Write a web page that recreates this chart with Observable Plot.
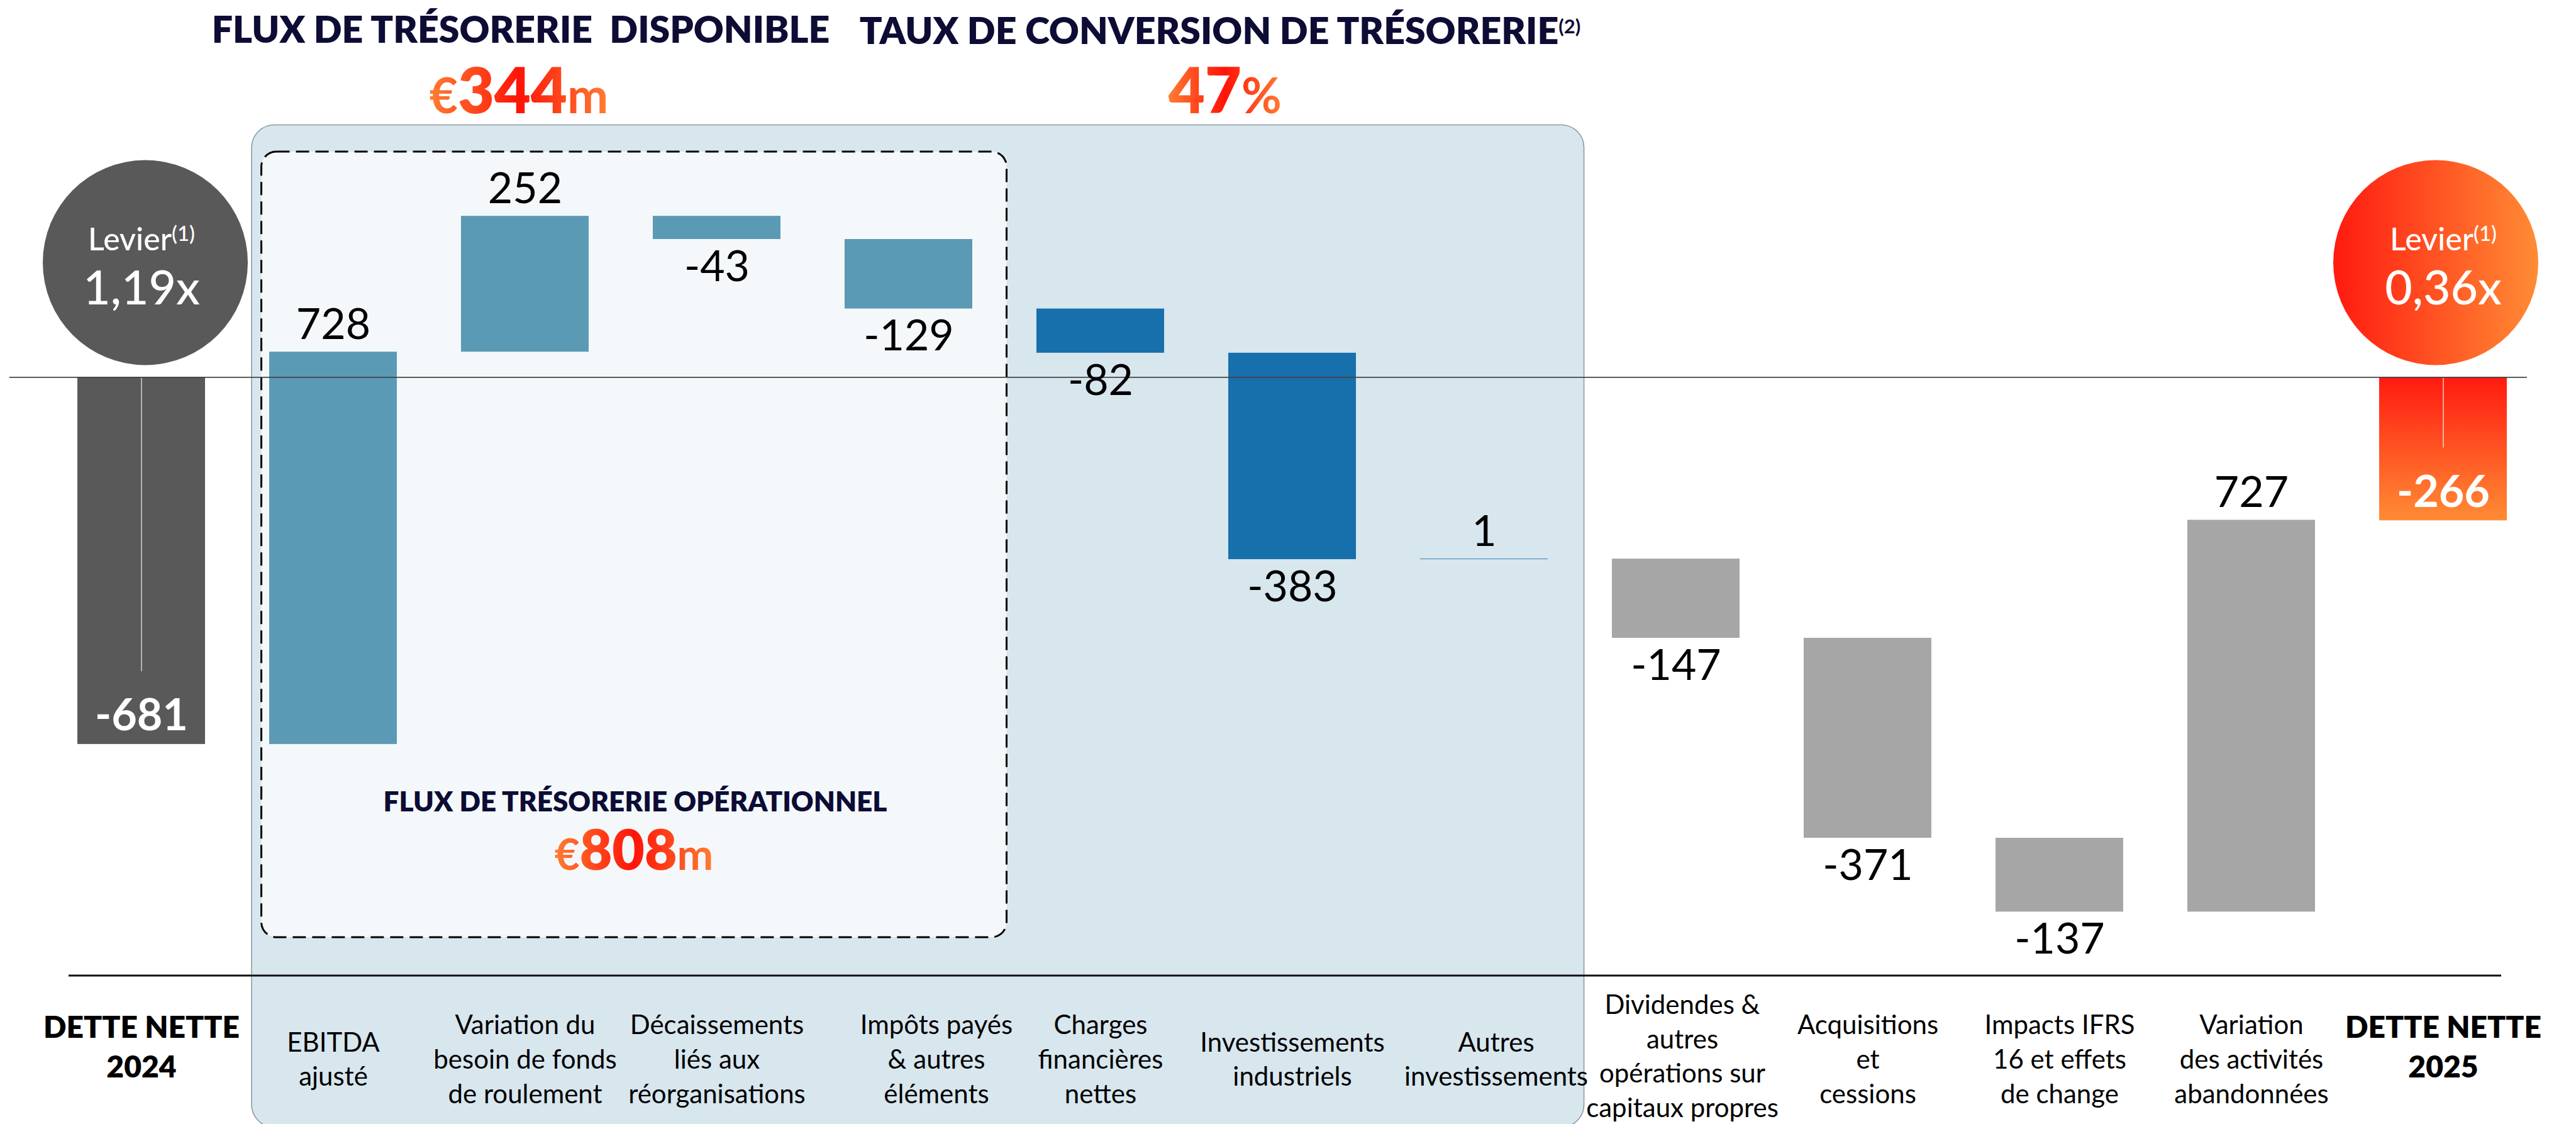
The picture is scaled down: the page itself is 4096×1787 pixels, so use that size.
<!DOCTYPE html>
<html>
<head>
<meta charset="utf-8">
<script src="https://cdn.jsdelivr.net/npm/d3@7"></script>
<script src="https://cdn.jsdelivr.net/npm/@observablehq/plot@0.6"></script>
<style>
  html, body { margin: 0; padding: 0; background: #ffffff; }
  #chart { width: 4096px; height: 1787px; overflow: hidden; }
  #chart svg { display: block; }
</style>
</head>
<body>
<div id="chart"></div>
<script>
// ---------------- DATA ----------------
const categories = [
  "DETTE NETTE\n2024",
  "EBITDA\najusté",
  "Variation du\nbesoin de fonds\nde roulement",
  "Décaissements\nliés aux\nréorganisations",
  "Impôts payés\n& autres\néléments",
  "Charges\nfinancières\nnettes",
  "Investissements\nindustriels",
  "Autres\ninvestissements",
  "Dividendes &\nautres\nopérations sur\ncapitaux propres",
  "Acquisitions\net\ncessions",
  "Impacts IFRS\n16 et effets\nde change",
  "Variation\ndes activités\nabandonnées",
  "DETTE NETTE\n2025"
];
const values = [-681, 728, 252, -43, -129, -82, -383, 1, -147, -371, -137, 727, -266];
const kinds = ["total", "ocf", "ocf", "ocf", "ocf", "fcf", "fcf", "fcf", "other", "other", "other", "other", "total"];
const valueLabels = ["-681", "728", "252", "-43", "-129", "-82", "-383", "1", "-147", "-371", "-137", "727", "-266"];
const leverageLabels = ["1,19x", "0,36x"];
const leverageTitle = "Levier";
const leverageNote = "(1)";
const fcfTitle = "FLUX DE TRÉSORERIE  DISPONIBLE";
const fcfValue = ["€", "344", "m"];
const convTitle = "TAUX DE CONVERSION DE TRÉSORERIE";
const convNote = "(2)";
const convValue = ["", "47", "%"];
const ocfTitle = "FLUX DE TRÉSORERIE OPÉRATIONNEL";
const ocfValue = ["€", "808", "m"];

// ---------------- WATERFALL ROWS ----------------
let cum = 0;
const rows = categories.map((cat, i) => {
  const v = values[i], kind = kinds[i];
  let y1, y2;
  if (kind === "total") { y1 = 0; y2 = v; cum = v; }
  else { y1 = cum; y2 = cum + v; cum = y2; }
  return { cat, i, value: v, kind, y1, y2, top: Math.max(y1, y2), bottom: Math.min(y1, y2), label: valueLabels[i] };
});
const totals = rows.filter(d => d.kind === "total");
const steps = rows.filter(d => d.kind !== "total");

// ---------------- LAYOUT ----------------
const W = 4096, H = 1787;
const xRange = [120.7, 3988.4];
const padInner = 0.334;
const yDomain = [-1000, 700];
const yRange = [1456.2, -0.4];
const FONT = "Lato, 'Open Sans', sans-serif";
const NAVY = "#0c0c35";

const axisText = (data, dx, dy = 1681) => Plot.text(data, {
  x: "cat", text: "cat", frameAnchor: "top", dy, dx, lineAnchor: "middle", lineHeight: 1.3,
  fontSize: 42, fill: "#000000", fontFamily: FONT
});

const chart = Plot.plot({
  width: W,
  height: H,
  marginTop: 0, marginRight: 0, marginBottom: 0, marginLeft: 0,
  style: { fontFamily: FONT, background: "transparent", overflow: "visible" },
  x: { type: "band", domain: categories, range: xRange, paddingInner: padInner, paddingOuter: 0, align: 0.5, axis: null },
  y: { domain: yDomain, range: yRange, axis: null },
  marks: [
    // bars
    Plot.barY(steps.filter(d => d.kind === "ocf"), { x: "cat", y1: "y1", y2: "y2", fill: "#5b9ab4" }),
    Plot.barY(steps.filter(d => d.kind === "fcf"), { x: "cat", y1: "y1", y2: "y2", fill: "#176fab" }),
    Plot.barY(steps.filter(d => d.kind === "other"), { x: "cat", y1: "y1", y2: "y2", fill: "#a6a6a6" }),
    Plot.barY([totals[0]], { x: "cat", y1: "y1", y2: "y2", fill: "#595959" }),
    Plot.barY([totals[1]], { x: "cat", y1: "y1", y2: "y2", fill: "url(#gBar)" }),
    // thin white lines inside the net debt bars
    Plot.ruleX(totals, { x: "cat", y1: 0, y2: d => d.value + 135, stroke: "#ffffff", strokeWidth: 1.2, strokeOpacity: 0.9 }),
    // zero line
    Plot.ruleY([0], { stroke: "#444444", strokeWidth: 1.6, insetLeft: 14.6, insetRight: 78 }),
    // value labels
    Plot.text(steps.filter(d => d.value >= 0), {
      x: "cat", y: "top", text: "label", lineAnchor: "bottom", dy: -21,
      fontSize: 68, fill: "#000000", fontFamily: FONT
    }),
    Plot.text(steps.filter(d => d.value < 0), {
      x: "cat", y: "bottom", text: "label", lineAnchor: "top", dy: 18,
      fontSize: 68, fill: "#000000", fontFamily: FONT
    }),
    Plot.text(totals, {
      x: "cat", y: "bottom", text: "label", lineAnchor: "bottom", dy: -22,
      fontSize: 70, fontWeight: 700, fill: "#ffffff", fontFamily: FONT
    }),
    // leverage circles
    Plot.dot([totals[0]], { x: "cat", frameAnchor: "top", dy: 417, dx: 6, r: 163, fill: "#595959" }),
    Plot.dot([totals[1]], { x: "cat", frameAnchor: "top", dy: 417, dx: -12, r: 163, fill: "url(#gCircle)" }),
    Plot.text(totals, {
      x: "cat", frameAnchor: "top", dy: 397, text: () => leverageTitle + leverageNote, lineAnchor: "bottom",
      fontSize: 50, fontWeight: 500, fill: "#ffffff", fontFamily: FONT
    }),
    Plot.text(totals, {
      x: "cat", frameAnchor: "top", dy: 483, text: (d, i) => leverageLabels[i], lineAnchor: "bottom",
      fontSize: 75, fontWeight: 500, fill: "#ffffff", fontFamily: FONT
    }),
    // category labels (axis)
    axisText(steps.filter(d => d.i !== 4 && d.i !== 7 && d.i !== 8), 0),
    axisText(steps.filter(d => d.i === 4), 44),
    axisText(steps.filter(d => d.i === 7), 19),
    axisText(steps.filter(d => d.i === 8), 10, 1676),
    Plot.text(totals, {
      x: "cat", text: "cat", frameAnchor: "top", dy: 1661, lineAnchor: "middle", lineHeight: 1.3,
      fontSize: 48, fontWeight: 800, fill: "#000000", fontFamily: FONT
    })
  ]
});

document.getElementById("chart").appendChild(chart);
const svg = d3.select(chart);

// ---------------- GRADIENTS ----------------
const defs = svg.insert("defs", ":first-child");
function grad(id, horizontal, stops) {
  const g = defs.append("linearGradient").attr("id", id)
    .attr("x1", 0).attr("y1", 0).attr("x2", horizontal ? 1 : 0).attr("y2", horizontal ? 0 : 1);
  stops.forEach(([o, c]) => g.append("stop").attr("offset", o).attr("stop-color", c));
}
grad("gText", true, [[0, "#ff7d32"], [0.5, "#ff1408"], [1, "#ff7d32"]]);
grad("gCircle", true, [[0, "#ff1a10"], [1, "#ff8c35"]]);
grad("gBar", false, [[0, "#ff1a10"], [1, "#ff8c35"]]);

// ---------------- PANELS (beneath the marks) ----------------
const xs = d3.scaleBand(categories, xRange).paddingInner(padInner).paddingOuter(0).align(0.5);
const bw = xs.bandwidth();
const bg = svg.insert("g", "g");
const panelLeft = xs(categories[1]) - 26;
const panelRight = xs(categories[7]) + bw + 57;
bg.append("rect")
  .attr("x", panelLeft).attr("y", 198.5)
  .attr("width", panelRight - panelLeft).attr("height", 1792 - 198.5)
  .attr("rx", 36).attr("ry", 36)
  .attr("fill", "#d8e6ee").attr("stroke", "#8d9aa3").attr("stroke-width", 1.6);
const boxLeft = xs(categories[1]) - 10.5;
const boxRight = xs(categories[4]) + bw + 55;
bg.append("rect")
  .attr("x", boxLeft).attr("y", 241)
  .attr("width", boxRight - boxLeft).attr("height", 1490 - 241)
  .attr("rx", 24).attr("ry", 24)
  .attr("fill", "#f4f8fa").attr("stroke", "#000000").attr("stroke-width", 3)
  .attr("stroke-dasharray", "21 10");

// ---------------- BASELINE ABOVE LABELS ----------------
svg.append("line")
  .attr("x1", 109).attr("x2", 3977).attr("y1", 1551).attr("y2", 1551)
  .attr("stroke", "#111111").attr("stroke-width", 3.2);

// ---------------- SUPERSCRIPTS IN CIRCLES ----------------
svg.selectAll("text").each(function () {
  if (this.childElementCount) return;
  const t = this.textContent;
  const m = t.match(/^(.*)(\(\d\))$/);
  if (m) {
    this.textContent = m[1];
    d3.select(this).append("tspan").attr("font-size", 33).attr("dy", -15).text(m[2]);
  }
});

// ---------------- HEADLINES ----------------
const ann = svg.append("g").attr("font-family", FONT);
function title(x, y, text, size, weight, fill) {
  return ann.append("text")
    .attr("x", x).attr("y", y).attr("text-anchor", "middle")
    .attr("font-size", size).attr("font-weight", weight).attr("fill", fill)
    .attr("xml:space", "preserve").style("white-space", "pre")
    .text(text);
}
function bigValue(x, y, parts, big, small) {
  const t = ann.append("text").attr("x", x).attr("y", y).attr("text-anchor", "middle")
    .attr("fill", "url(#gText)").attr("font-weight", 800);
  if (parts[0]) t.append("tspan").attr("font-size", small).attr("font-weight", 700).text(parts[0]);
  t.append("tspan").attr("font-size", big).text(parts[1]);
  if (parts[2]) t.append("tspan").attr("font-size", small).attr("font-weight", 700).text(parts[2]);
  return t;
}
title(828, 68, fcfTitle, 59, 800, NAVY);
bigValue(825, 180, fcfValue, 100, 78);
const t2 = title(1940, 70, convTitle, 59, 800, NAVY);
t2.append("tspan").attr("font-size", 31).attr("dy", -17).attr("font-weight", 700).text(convNote);
bigValue(1948, 180, convValue, 100, 78);
title(1010, 1289.5, ocfTitle, 44, 800, NAVY);
bigValue(1008, 1383, ocfValue, 89, 69);
</script>
</body>
</html>
